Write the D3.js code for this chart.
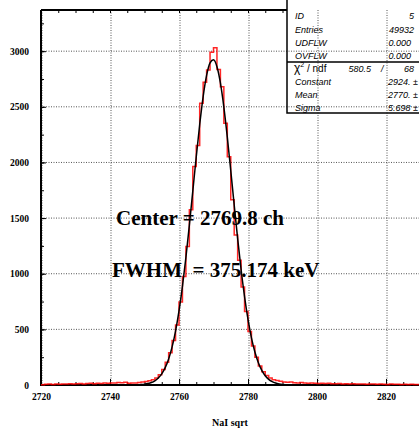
<!DOCTYPE html>
<html>
<head>
<meta charset="utf-8">
<script src="https://cdn.jsdelivr.net/npm/d3@7"></script>
<style>
  body { margin: 0; background: #fff; }
  svg { display: block; }
</style>
</head>
<body>
<script>
// canvas
const width = 419;
const height = 430;
const frame = {left: 41, right: 420.5, top: 10, bottom: 385};

// histogram: one bin per channel, low edges 2720 .. 2829
const binLow = d3.range(2720, 2830);
const binCounts = [
  3, 6, 8, 5, 9, 7, 10, 8, 12, 9,
  11, 14, 10, 13, 15, 12, 16, 14, 18, 15,
  19, 17, 22, 20, 25, 15, 17, 19, 22, 27,
  32, 38, 48, 62, 92, 140, 205, 290, 400, 540,
  745, 975, 1244, 1574, 1963, 2152, 2533, 2720, 2830, 2990,
  3030, 2835, 2680, 2353, 2052, 1664, 1349, 1120, 880, 660,
  480, 350, 250, 170, 120, 85, 62, 48, 40, 33,
  28, 24, 26, 21, 19, 22, 18, 16, 19, 15,
  14, 16, 13, 15, 12, 11, 13, 10, 12, 9,
  11, 10, 8, 9, 7, 10, 8, 6, 9, 7,
  5, 8, 6, 7, 5, 6, 4, 6, 5, 4
];

// gaussian fit curve
const fitX = d3.range(2745, 2796);
const fitY = [
  0, 0.5, 1, 2, 4, 7, 13, 22, 38, 63,
  100, 156, 234, 342, 485, 666, 887, 1146, 1435, 1742,
  2051, 2341, 2592, 2782, 2895, 2922, 2860, 2714, 2497, 2228,
  1928, 1618, 1316, 1038, 794, 589, 424, 296, 200, 131,
  83, 51, 31, 18, 10, 5, 3, 2, 1, 0.5, 0
];

// axis ticks
const xLabels = [2720, 2740, 2760, 2780, 2800, 2820];
const yLabels = [0, 500, 1000, 1500, 2000, 2500, 3000];

// stats box
const statNames = ["ID", "Entries", "UDFLW", "OVFLW"];
const statValues = ["5", "49932", "0.000", "0.000"];
const chi2 = "580.5";
const ndf = "68";
const parNames = ["Constant", "Mean", "Sigma"];
const parValues = ["2924. \u00b1", "2770. \u00b1", "5.698 \u00b1"];

// annotations
const notes = ["Center = 2769.8 ch", "FWHM  = 375.174 keV"];
const xTitle = "NaI sqrt";

const boxLeft = 287;

const x = d3.scaleLinear().domain([2720, 2830]).range([frame.left, frame.right]);
const y = d3.scaleLinear().domain([0, 3370]).range([frame.bottom, frame.top]);

const svg = d3.select('body').append('svg')
    .attr('width', width)
    .attr('height', height);

const serif = '"Liberation Serif", "Times New Roman", serif';
const sans = '"Liberation Sans", Arial, sans-serif';

// grid
svg.append('g').selectAll('line')
    .data(xLabels)
    .join('line')
    .attr('x1', d => x(d) + 1).attr('x2', d => x(d) + 1)
    .attr('y1', frame.top).attr('y2', frame.bottom)
    .attr('stroke', '#555').attr('stroke-width', 1)
    .attr('stroke-dasharray', '1,1.5');
svg.append('g').selectAll('line')
    .data(yLabels.filter(d => d > 0))
    .join('line')
    .attr('x1', frame.left).attr('x2', width)
    .attr('y1', d => y(d)).attr('y2', d => y(d))
    .attr('stroke', '#555').attr('stroke-width', 1)
    .attr('stroke-dasharray', '1,1.5');

// x axis (bottom)
const xMinor = d3.range(2720, 2831, 5);
svg.append('g')
    .attr('transform', `translate(0,${frame.bottom})`)
    .call(d3.axisBottom(x).tickValues(xMinor).tickSize(-3).tickSizeOuter(0).tickFormat(''))
    .call(g => g.select('.domain').remove());
svg.append('g')
    .attr('transform', `translate(0,${frame.bottom})`)
    .call(d3.axisBottom(x).tickValues(xLabels).tickSize(-6).tickSizeOuter(0)
      .tickPadding(8).tickFormat(d3.format('d')))
    .call(g => g.select('.domain').remove())
    .call(g => g.selectAll('text')
      .attr('font-family', serif).attr('font-weight', 'bold')
      .attr('font-size', '9.5px').attr('fill', '#000'));

// top axis
svg.append('g')
    .attr('transform', `translate(0,${frame.top})`)
    .call(d3.axisTop(x).tickValues(xMinor.filter(d => x(d) < boxLeft)).tickSize(-3)
      .tickSizeOuter(0).tickFormat(''))
    .call(g => g.select('.domain').remove());

// y axis
const yMinor = d3.range(0, 3371, 250);
svg.append('g')
    .attr('transform', `translate(${frame.left},0)`)
    .call(d3.axisLeft(y).tickValues(yMinor).tickSize(-3).tickSizeOuter(0).tickFormat(''))
    .call(g => g.select('.domain').remove());
svg.append('g')
    .attr('transform', `translate(${frame.left},0)`)
    .call(d3.axisLeft(y).tickValues(yLabels).tickSize(-5).tickSizeOuter(0)
      .tickPadding(12).tickFormat(d3.format('d')))
    .call(g => g.select('.domain').remove())
    .call(g => g.selectAll('text')
      .attr('font-family', serif).attr('font-weight', 'bold')
      .attr('font-size', '9.5px').attr('fill', '#000'));

// frame
svg.append('path')
    .attr('d', `M${frame.left},${frame.top}H${boxLeft}M${frame.left},${frame.top}V${frame.bottom}H${width}`)
    .attr('fill', 'none').attr('stroke', '#000').attr('stroke-width', 2);

// histogram
const stepData = binLow.map((d, i) => [d, binCounts[i]]);
stepData.push([binLow[binLow.length - 1] + 1, binCounts[binCounts.length - 1]]);
svg.append('path')
    .datum(stepData)
    .attr('fill', 'none')
    .attr('stroke', '#ff0000')
    .attr('stroke-width', 1.5)
    .attr('stroke-opacity', 0.85)
    .attr('d', d3.line().curve(d3.curveStepAfter).x(d => x(d[0])).y(d => y(d[1])));

// fit
svg.append('path')
    .datum(fitX.map((d, i) => [d, fitY[i]]))
    .attr('fill', 'none')
    .attr('stroke', '#000')
    .attr('stroke-width', 1.5)
    .attr('d', d3.line().curve(d3.curveMonotoneX).x(d => x(d[0])).y(d => y(d[1])));

// stats box
const box = svg.append('g');
box.append('path')
    .attr('d', `M${boxLeft},0V113H${width}M${boxLeft},62H${width}`)
    .attr('fill', 'none').attr('stroke', '#000').attr('stroke-width', 1.5);
const statRowY = [19, 33, 46, 58.5];
box.selectAll('.sn').data(statNames).join('text')
    .attr('class', 'sn')
    .attr('x', 295).attr('y', (d, i) => statRowY[i])
    .attr('font-family', sans).attr('font-style', 'italic').attr('font-size', '9px')
    .text(d => d);
box.selectAll('.sv').data(statValues).join('text')
    .attr('class', 'sv')
    .attr('x', (d, i) => i < 2 ? 414 : 411).attr('y', (d, i) => statRowY[i])
    .attr('text-anchor', 'end')
    .attr('font-family', sans).attr('font-style', 'italic').attr('font-size', '9px')
    .text(d => d);
const chiText = box.append('text')
    .attr('x', 294).attr('y', 72)
    .attr('font-family', sans).attr('font-size', '10px');
chiText.append('tspan').attr('font-size', '12px').text('\u03c7');
chiText.append('tspan').attr('font-size', '7px').attr('dy', -5).text('2');
chiText.append('tspan').attr('dy', 5).text(' / ndf');
box.append('text')
    .attr('x', 371).attr('y', 72).attr('text-anchor', 'end')
    .attr('font-family', sans).attr('font-style', 'italic').attr('font-size', '9px')
    .text(chi2);
box.append('text')
    .attr('x', 381).attr('y', 72)
    .attr('font-family', sans).attr('font-style', 'italic').attr('font-size', '9px')
    .text('/');
box.append('text')
    .attr('x', 414).attr('y', 72).attr('text-anchor', 'end')
    .attr('font-family', sans).attr('font-style', 'italic').attr('font-size', '9px')
    .text(ndf);
const parRowY = [84.5, 98, 111];
box.selectAll('.pn').data(parNames).join('text')
    .attr('class', 'pn')
    .attr('x', 295).attr('y', (d, i) => parRowY[i])
    .attr('font-family', sans).attr('font-style', 'italic').attr('font-size', '9px')
    .text(d => d);
box.selectAll('.pv').data(parValues).join('text')
    .attr('class', 'pv')
    .attr('x', 388).attr('y', (d, i) => parRowY[i])
    .attr('font-family', sans).attr('font-style', 'italic').attr('font-size', '9px')
    .text(d => d);

// annotations
svg.selectAll('.note').data(notes).join('text')
    .attr('class', 'note')
    .attr('x', (d, i) => i === 0 ? 116 : 112)
    .attr('y', (d, i) => i === 0 ? 225 : 277)
    .attr('font-family', serif).attr('font-weight', 'bold').attr('font-size', '21px')
    .style('white-space', 'pre')
    .text(d => d);

// x title
svg.append('text')
    .attr('x', 230).attr('y', 426).attr('text-anchor', 'middle')
    .attr('font-family', serif).attr('font-weight', 'bold').attr('font-size', '10px')
    .text(xTitle);
</script>
</body>
</html>
